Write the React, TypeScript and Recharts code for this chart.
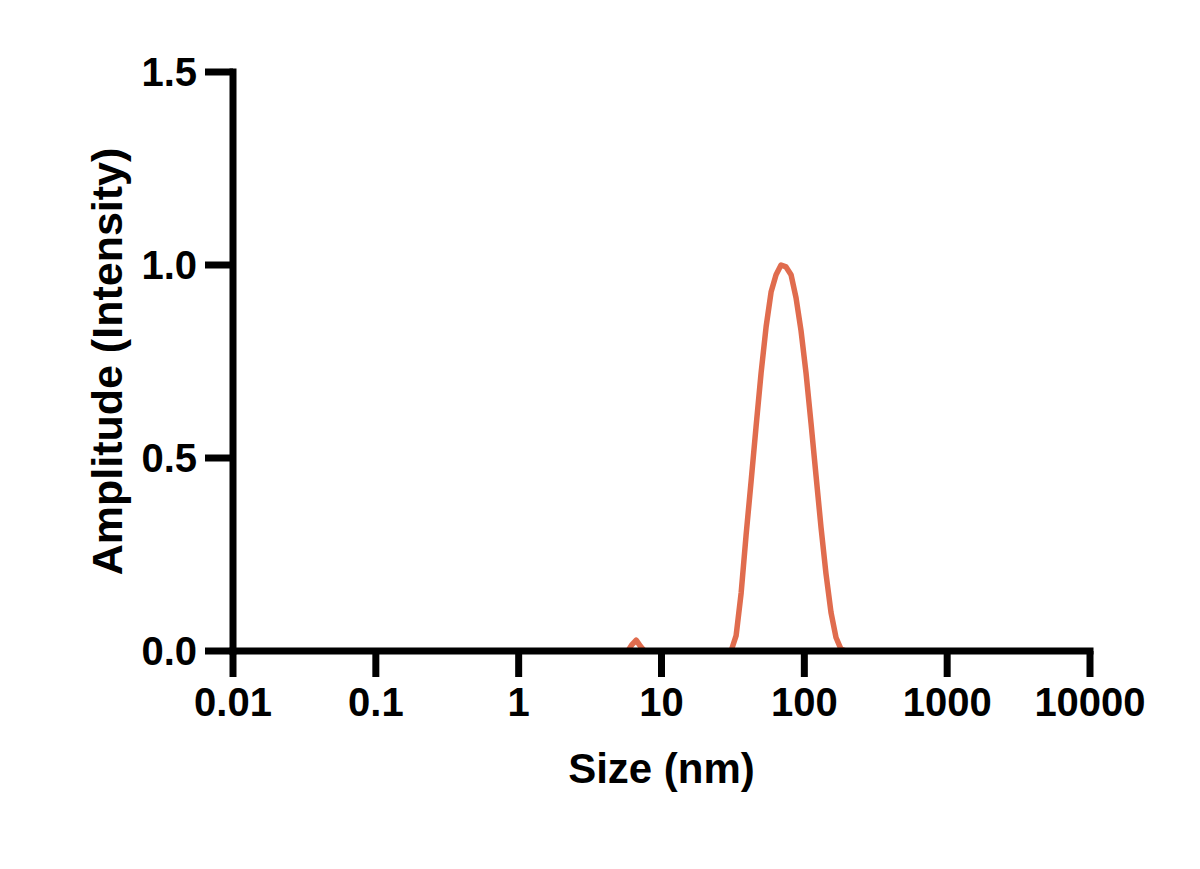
import React from "react";
import { Label, Line, LineChart, XAxis, YAxis } from "recharts";

// size bins (nm) and normalised intensity
const sizes = [
  0.02, 5.81, 6.17, 6.65, 7.13, 7.61,
  30.7, 33.3, 36.1, 39.1, 42.4, 45.9, 49.8, 54.0, 58.5, 63.4, 68.7, 74.5,
  80.7, 87.5, 94.8, 102.8, 111.4, 120.7, 130.9, 141.8, 153.7, 166.6, 180.5,
  195.7, 10000,
];
const amplitude = [
  0, 0, 0.015, 0.028, 0.012, 0,
  0, 0.04, 0.15, 0.3, 0.44, 0.58, 0.72, 0.84, 0.93, 0.975, 1.0, 0.995,
  0.975, 0.915, 0.83, 0.72, 0.59, 0.455, 0.32, 0.2, 0.1, 0.035, 0.005,
  0, 0,
];
const xTicks = [0.01, 0.1, 1, 10, 100, 1000, 10000];
const yTicks = [0, 0.5, 1.0, 1.5];

const data = sizes.map((s, i) => ({ size: s, amp: amplitude[i] }));

const FONT = "'Liberation Sans', Arial, Helvetica, sans-serif";
const tickStyle = { fill: "#000", fontSize: 40, fontWeight: 700, fontFamily: FONT };
const axisStroke = { stroke: "#000", strokeWidth: 7, strokeLinecap: "square" as const };
const tickStroke = { stroke: "#000", strokeWidth: 7 };

const fmtX = (v: number) => String(v);
const fmtY = (v: number) => v.toFixed(1);

function YTitle(props: any) {
  const vb = props.viewBox || { x: 0, y: 72, width: 233, height: 579 };
  const x = vb.x + vb.width - 111;
  const y = vb.y + vb.height / 2;
  return (
    <text
      x={x}
      y={y}
      transform={`rotate(-90, ${x}, ${y})`}
      textAnchor="middle"
      fill="#000"
      fontSize={43}
      fontWeight={700}
      fontFamily={FONT}
    >
      Amplitude (Intensity)
    </text>
  );
}

function XTitle(props: any) {
  const vb = props.viewBox || { x: 233, y: 651, width: 857, height: 150 };
  return (
    <text
      x={vb.x + vb.width / 2}
      y={vb.y + 132}
      textAnchor="middle"
      fill="#000"
      fontSize={42}
      fontWeight={700}
      fontFamily={FONT}
    >
      Size (nm)
    </text>
  );
}

export default function App() {
  return (
    <div style={{ position: "absolute", left: 0, top: 0, width: 1200, height: 869, background: "#fff" }}>
      <LineChart
        width={1200}
        height={869}
        data={data}
        margin={{ top: 72, right: 110, bottom: 68, left: 0 }}
      >
        <XAxis
          dataKey="size"
          type="number"
          scale="log"
          domain={[0.01, 10000]}
          ticks={xTicks}
          interval={0}
          allowDataOverflow
          tickFormatter={fmtX}
          tick={tickStyle}
          tickSize={26}
          tickMargin={11}
          axisLine={axisStroke}
          tickLine={tickStroke}
          height={150}
        >
          <Label content={XTitle} />
        </XAxis>
        <YAxis
          type="number"
          domain={[0, 1.5]}
          ticks={yTicks}
          interval={0}
          tickFormatter={fmtY}
          tick={tickStyle}
          tickSize={28}
          tickMargin={8}
          axisLine={axisStroke}
          tickLine={tickStroke}
          width={233}
        >
          <Label content={YTitle} />
        </YAxis>
        <Line
          type="linear"
          dataKey="amp"
          stroke="#E06C4E"
          strokeWidth={5.5}
          strokeLinejoin="round"
          dot={false}
          activeDot={false}
          isAnimationActive={false}
        />
      </LineChart>
    </div>
  );
}
